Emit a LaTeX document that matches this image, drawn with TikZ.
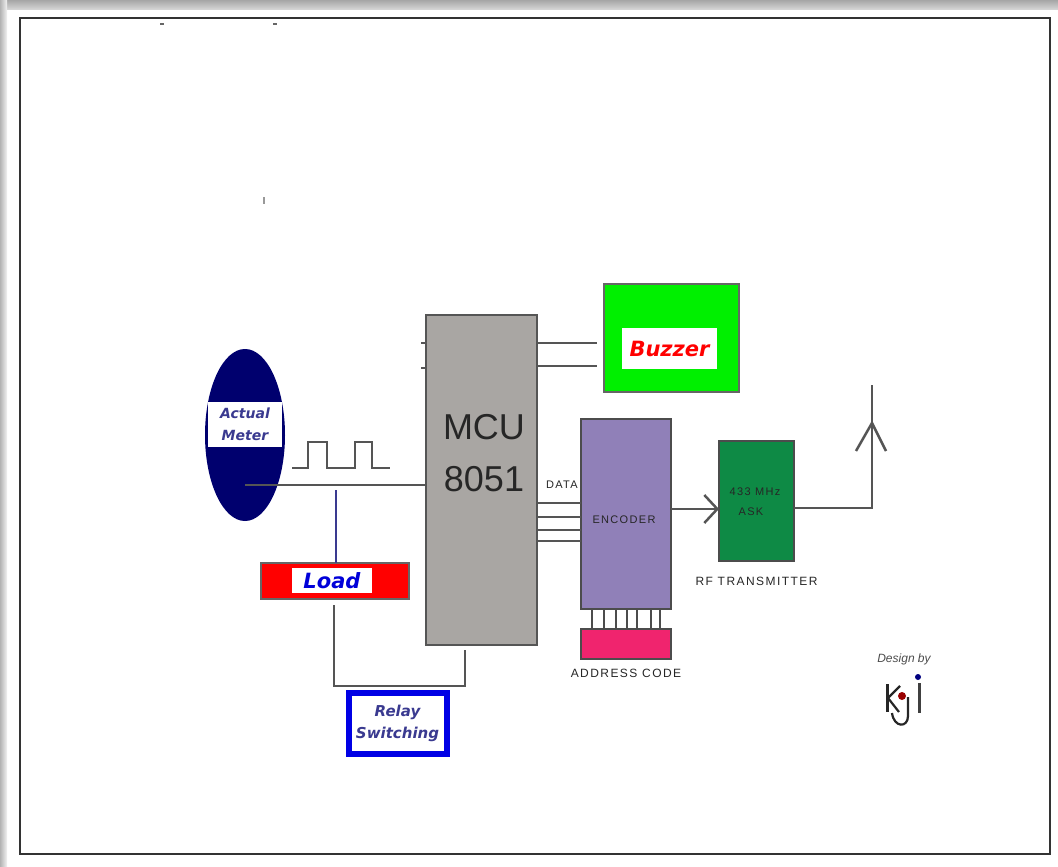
\documentclass[tikz,border=0pt]{standalone}
\usepackage{fontspec}
\setmainfont{Liberation Sans}
\newfontfamily\labelfont{DejaVu Sans}
\newfontfamily\spacedfont[LetterSpace=12]{Liberation Sans}
\usepackage{xcolor}
\usetikzlibrary{shapes.geometric,arrows.meta,positioning,calc}

\definecolor{mcugray}{HTML}{A9A6A3}
\definecolor{wiregray}{HTML}{555555}
\definecolor{navymeter}{HTML}{00006E}
\definecolor{buzzgreen}{HTML}{00F000}
\definecolor{encpurple}{HTML}{9080B8}
\definecolor{addrpink}{HTML}{F0246E}
\definecolor{rfgreen}{HTML}{0E8A45}
\definecolor{textblue}{HTML}{3A3A90}

\tikzset{
    blockbox/.style={draw=#1, line width=2.5pt, outer sep=0pt, inner sep=0pt},
    blockbox/.default=wiregray,
    tagbox/.style={fill=white, outer sep=0pt, inner sep=0pt, align=center},
    tinytext/.style={font=\spacedfont\fontsize{11}{13}\selectfont, text=black!85, inner sep=0pt},
    wire/.style={draw=wiregray, line width=2.5pt}
}

\begin{document}
\begin{tikzpicture}[x=1pt, y=-1pt]
    \useasboundingbox (0,0) rectangle (1058,867);
    % window edge
    \shade[top color=black!35, bottom color=black!15] (0,0) rectangle (1058,10);
    \shade[left color=black!30, right color=black!5] (0,0) rectangle (7,867);
    \node[draw=black!80, line width=2pt, outer sep=0pt, minimum width=1030pt, minimum height=836pt] (frame) at (535,436) {};
    \fill[black!60] (160,23) rectangle (164,25);
    \fill[black!60] (273,23) rectangle (277,25);
    \fill[black!40] (263,197) rectangle (264.5,204);

    % main blocks
    \node[blockbox, fill=mcugray, minimum width=111pt, minimum height=330pt] (mcu) at (481.5,480) {};
    \node[text=black!85, font=\fontsize{36}{52}\selectfont, align=center, inner sep=0pt] (mculabel) at (484,453) {MCU\\8051};
    \node[blockbox=black!60, fill=buzzgreen, minimum width=135pt, minimum height=108pt] (buzzer) at (671.5,338) {};
    \node[tagbox, minimum width=95pt, minimum height=41pt, text=red,
          font=\labelfont\bfseries\itshape\fontsize{21}{24}\selectfont] (buzzerlabel) at (669.5,348.5) {Buzzer};
    \node[blockbox=black!70, fill=encpurple, minimum width=90pt, minimum height=190pt] (encoder) at (626,514) {};
    \node[tinytext] (encoderlabel) at (624,520) {ENCODER};
    \node[blockbox=black!70, fill=addrpink, minimum width=90pt, minimum height=30pt, below=20pt of encoder] (address) {};
    \node[tinytext, font=\spacedfont\fontsize{12}{14}\selectfont, below=10pt of address] (addresslabel) {ADDRESS CODE};
    \node[blockbox=black!70, fill=rfgreen, minimum width=75pt, minimum height=120pt] (rf) at (756.5,501) {};
    \node[tinytext] (freqlabel) at (755,492) {433 MHz};
    \node[tinytext] (asklabel) at (751,512) {ASK};
    \node[tinytext, font=\spacedfont\fontsize{12}{14}\selectfont, below=16pt of rf] (rflabel) {RF TRANSMITTER};
    \node[tinytext, left=3pt of encoder.west, yshift=29pt] (datalabel) {DATA};

    % meter, load, relay
    \node[ellipse, fill=navymeter, minimum width=80pt, minimum height=172pt, outer sep=0pt, inner sep=0pt] (meter) at (245,435) {};
    \node[tagbox, minimum width=74pt, minimum height=45pt, text=textblue,
          font=\labelfont\itshape\bfseries\fontsize{14}{22}\selectfont] (meterlabel) at (245,424.5) {Actual\\Meter};
    \node[blockbox=black!60, fill=red, minimum width=148pt, minimum height=36pt] (load) at (335,581) {};
    \node[tagbox, minimum width=80pt, minimum height=25pt, text=blue!85!black,
          font=\labelfont\itshape\bfseries\fontsize{21}{23}\selectfont] (loadlabel) at (332,580.5) {Load};
    \node[draw=blue!90!black, line width=6pt, fill=white, outer sep=0pt, inner sep=0pt, minimum width=98pt, minimum height=61pt, text=textblue, align=center,
          font=\labelfont\itshape\bfseries\fontsize{15}{22}\selectfont] (relay) at (397.5,723) {Relay\\Switching};

    % wiring
    \coordinate (tap) at (245,485);
    \coordinate (loadtap) at (336,490);
    \coordinate (loadout) at (334,605);
    \coordinate (relayleft) at (334,686);
    \coordinate (relayright) at (465,686);
    \coordinate (mcuout) at (465,650);
    \draw[wire] (tap) -- (tap -| mcu.west);
    \draw[draw=textblue, line width=2.5pt] (loadtap) -- (loadtap |- load.north);
    \draw[wire] (loadout) -- (relayleft) -- (relayright) -- (mcuout);
    \foreach \y in {343,366} {
        \draw[wire] (mcu.east |- 0,\y) -- (597,\y);
    }
    \foreach \y in {343,368} {
        \draw[wire] (mcu.west |- 0,\y) -- (421,\y);
    }
    \foreach \y in {503,517,530,541} {
        \draw[wire] (mcu.east |- 0,\y) -- (encoder.west |- 0,\y);
    }
    \foreach \x in {592,604,616,627,637,651,660} {
        \draw[wire, draw=black!70] (encoder.south -| \x,0) -- (address.north -| \x,0);
    }
    \draw[wire, -{Straight Barb[length=13pt,width=28pt]}] (encoder.east |- 0,509) -- (rf.west |- 0,509);

    % pulse train
    \coordinate (pulsestart) at (292,468);
    \draw[wire] (pulsestart) -- ++(16,0) -- ++(0,-26) -- ++(19,0) -- ++(0,26) -- ++(28,0) -- ++(0,-26) -- ++(17,0) -- ++(0,26) -- ++(18,0);

    % antenna
    \coordinate (mast) at (872,508);
    \coordinate (masttop) at (872,385);
    \coordinate (mastjoin) at (872,423);
    \draw[wire] (rf.east |- mast) -- (mast) -- (masttop);
    \draw[wire] (856,451) -- (mastjoin) -- (886,451);

    % logo
    \node[font=\itshape\fontsize{12}{14}\selectfont, text=black!70, inner sep=0pt] (designlabel) at (904,659) {Design by};
    \draw[black!85, line width=3pt] (887,684) -- (887,712);
    \draw[black!85, line width=2.2pt] (900,686) -- (888,698) -- (899,712);
    \draw[black!85, line width=2.2pt] (908,697) -- (908,716) .. controls (908,728) and (894,728) .. (892,713);
    \draw[black!75, line width=3pt] (919,683) -- (919,713);
    \fill[red!60!black] (902,696) circle (4pt);
    \fill[blue!50!black] (918,677) circle (3pt);
\end{tikzpicture}
\end{document}
